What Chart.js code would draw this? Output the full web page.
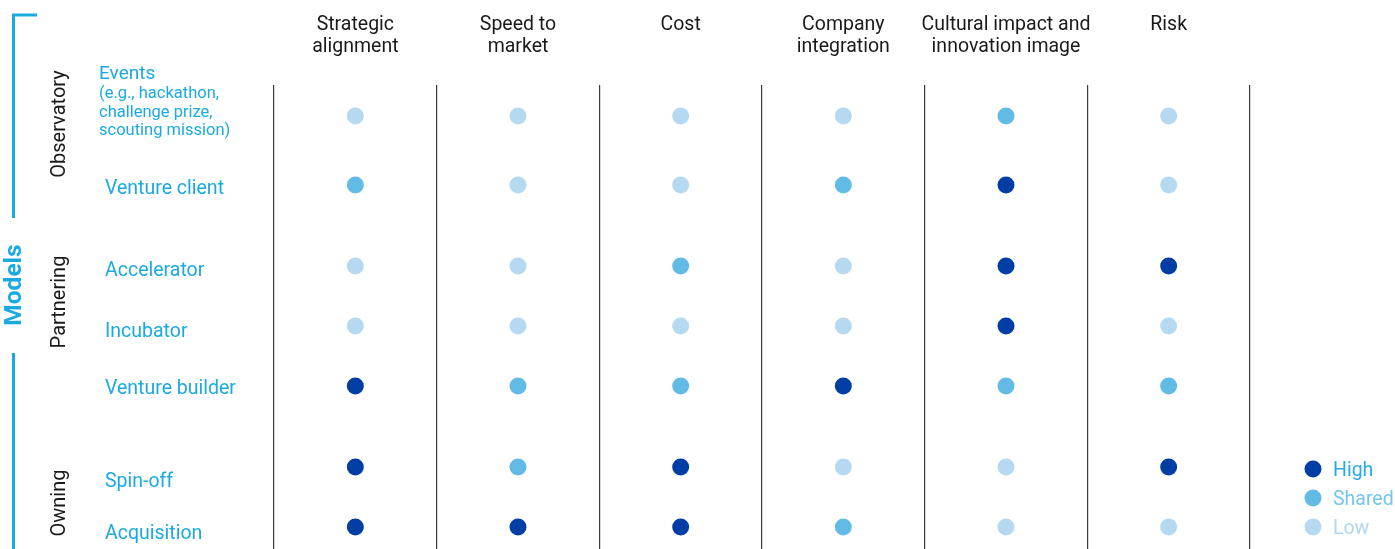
<!DOCTYPE html>
<html>
<head>
<meta charset="utf-8">
<script src="https://cdn.jsdelivr.net/npm/chart.js@4"></script>
<style>
  html, body { margin: 0; background: #fff; overflow: hidden; }
  #matrix { display: block; }
</style>
</head>
<body>
<canvas id="matrix" width="1395" height="549"></canvas>
<script>
// Criteria shown as column headers (one array entry per header line)
const criteria = [
    ["Strategic", "alignment"],
    ["Speed to", "market"],
    ["Cost"],
    ["Company", "integration"],
    ["Cultural impact and", "innovation image"],
    ["Risk"]
]

// Innovation models, their group and the note under "Events"
const models = ["Events", "Venture client", "Accelerator", "Incubator", "Venture builder", "Spin-off", "Acquisition"]
const eventsNote = ["(e.g., hackathon,", "challenge prize,", "scouting mission)"]
const groups = ["Observatory", "Partnering", "Owning"]
const modelGroup = [0, 0, 1, 1, 1, 2, 2]

const levels = ["High", "Shared", "Low"]

// Rating per model, one entry per criterion
const events = ["Low", "Low", "Low", "Low", "Shared", "Low"]
const ventureClient = ["Shared", "Low", "Low", "Shared", "High", "Low"]
const accelerator = ["Low", "Low", "Shared", "Low", "High", "High"]
const incubator = ["Low", "Low", "Low", "Low", "High", "Low"]
const ventureBuilder = ["High", "Shared", "Shared", "High", "Shared", "Shared"]
const spinOff = ["High", "Shared", "High", "Low", "Low", "High"]
const acquisition = ["High", "High", "High", "Shared", "Low", "Low"]

const ratings = [events, ventureClient, accelerator, incubator, ventureBuilder, spinOff, acquisition]

const levelColors = { High: "#003da5", Shared: "#62bbe5", Low: "#b5d9f0" }
const legendText = { High: "#29abe2", Shared: "#74c6ec", Low: "#aed8f1" }
const BLUE = "#1ba9e1"
const FONT = "Roboto, 'Liberation Sans', sans-serif"

// rows sit one unit apart, with extra room between groups and
// after the first row (its label runs over four lines)
const GROUP_GAP = 0.35
const FIRST_ROW_GAP = 0.15
const rowPos = (i) => i + GROUP_GAP * modelGroup[i] + (i > 0 ? FIRST_ROW_GAP : 0)

// the separators run to the bottom edge, so don't reserve room for dot overflow
Chart.ScatterController.prototype.getMaxOverflow = () => 0

const datasets = levels.map((level) => {
    const points = []
    ratings.forEach((row, r) => {
        row.forEach((val, c) => {
            if (val === level) points.push({ x: c, y: rowPos(r) })
        })
    })
    return {
        label: level,
        data: points,
        backgroundColor: levelColors[level],
        borderWidth: 0,
        pointRadius: 8.5,
        pointHoverRadius: 8.5,
        clip: false
    }
})

// small vertical nudges so each name sits where it reads best next to its dots
const labelNudge = [0, 4, 5, 6, 3, 15, 7]

const labelsPlugin = {
    id: "matrixLabels",
    afterDraw(chart) {
        const ctx = chart.ctx
        const xs = chart.scales.x
        const ys = chart.scales.y
        ctx.save()

        // column headers
        ctx.fillStyle = "#1a1a1a"
        ctx.font = "19.5px " + FONT
        ctx.textAlign = "center"
        ctx.textBaseline = "middle"
        criteria.forEach((lines, c) => {
            const x = xs.getPixelForValue(c)
            lines.forEach((t, k) => ctx.fillText(t, x, 25 + k * 22))
        })

        // model names
        ctx.fillStyle = BLUE
        ctx.textAlign = "left"
        models.forEach((name, r) => {
            const y = ys.getPixelForValue(rowPos(r))
            if (r === 0) {
                ctx.font = "19px " + FONT
                ctx.fillText(name, 99, y - 42)
                ctx.font = "16.5px " + FONT
                eventsNote.forEach((t, k) => ctx.fillText(t, 99, y - 22 + k * 18.5))
            } else {
                ctx.font = "19.5px " + FONT
                ctx.fillText(name, 105, y + labelNudge[r])
            }
        })

        // group names, rotated
        ctx.fillStyle = "#1a1a1a"
        ctx.font = "20px " + FONT
        ctx.textAlign = "center"
        const groupY = [
            ys.getPixelForValue(rowPos(0)) + 8,
            ys.getPixelForValue(rowPos(3)) - 24,
            ys.getPixelForValue(rowPos(6)) - 24
        ]
        groups.forEach((g, i) => {
            ctx.save()
            ctx.translate(60, groupY[i])
            ctx.rotate(-Math.PI / 2)
            ctx.fillText(g, 0, 0)
            ctx.restore()
        })

        // "Models" bracket
        ctx.strokeStyle = BLUE
        ctx.lineWidth = 3
        ctx.beginPath()
        ctx.moveTo(37, 15)
        ctx.lineTo(13.5, 15)
        ctx.lineTo(13.5, 218)
        ctx.moveTo(13.5, 353)
        ctx.lineTo(13.5, 549)
        ctx.stroke()
        ctx.save()
        ctx.translate(15, 285)
        ctx.rotate(-Math.PI / 2)
        ctx.fillStyle = BLUE
        ctx.font = "bold 24.5px " + FONT
        ctx.fillText("Models", 0, 0)
        ctx.restore()

        // legend
        levels.forEach((level, i) => {
            const y = 469 + i * 29
            ctx.fillStyle = levelColors[level]
            ctx.beginPath()
            ctx.arc(1313, y, 8.5, 0, Math.PI * 2)
            ctx.fill()
            ctx.fillStyle = legendText[level]
            ctx.font = "19.5px " + FONT
            ctx.textAlign = "left"
            ctx.fillText(level, 1333, y + 2)
        })

        ctx.restore()
    }
}

new Chart(document.getElementById("matrix"), {
    type: "scatter",
    data: { datasets: datasets },
    options: {
        responsive: false,
        animation: false,
        events: [],
        layout: { padding: { left: 274, right: 145, top: 85, bottom: 0 } },
        plugins: {
            legend: { display: false },
            tooltip: { enabled: false }
        },
        scales: {
            x: {
                type: "linear",
                min: -0.5,
                max: 5.5,
                border: { display: false },
                ticks: { display: false, padding: 0 },
                grid: { color: "#3a3a3a", lineWidth: 1.2, drawTicks: false, tickLength: 0 },
                afterBuildTicks: (scale) => {
                    scale.ticks = [-0.5, 0.5, 1.5, 2.5, 3.5, 4.5, 5.5].map((v) => ({ value: v }))
                },
                // the axis only supplies the vertical separators, so it takes no room
                afterFit: (scale) => { scale.height = 0 }
            },
            y: {
                type: "linear",
                reverse: true,
                min: -0.517,
                max: 7.217,
                display: false
            }
        }
    },
    plugins: [labelsPlugin]
})
</script>
</body>
</html>
